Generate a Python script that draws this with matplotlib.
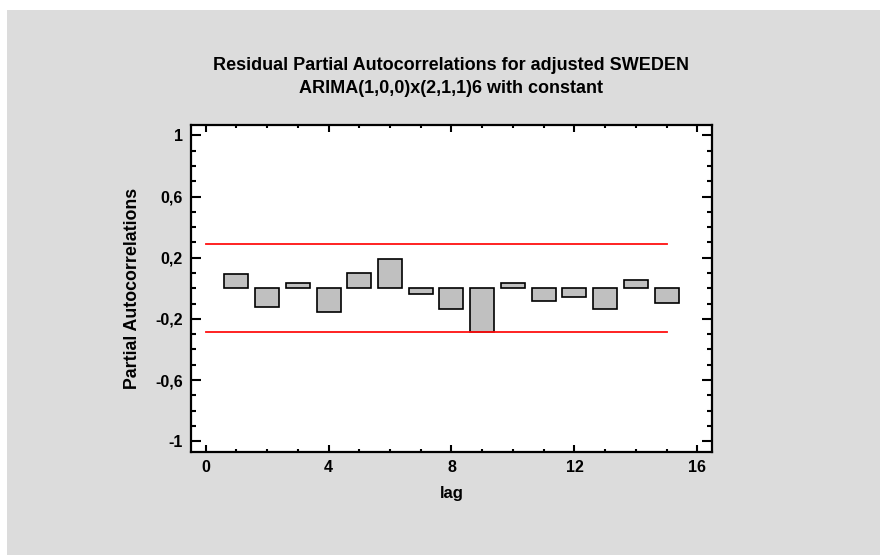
import matplotlib
matplotlib.use('Agg')
import matplotlib.pyplot as plt
from matplotlib.patches import Rectangle
from matplotlib.ticker import MultipleLocator, FuncFormatter

# Residual partial autocorrelations by lag
lags = [1, 2, 3, 4, 5, 6, 7, 8, 9, 10, 11, 12, 13, 14, 15]
pacf = [0.092, -0.121, 0.037, -0.158, 0.099, 0.191, -0.039, -0.138,
        -0.286, 0.037, -0.086, -0.057, -0.138, 0.057, -0.095]

# 95% probability limits
limit_upper = 0.291
limit_lower = -0.288
limit_span = [0, 15]

ytick_values = [-1, -0.6, -0.2, 0.2, 0.6, 1]

title = ('Residual Partial Autocorrelations for adjusted SWEDEN\n'
         'ARIMA(1,0,0)x(2,1,1)6 with constant')

plt.rcParams['font.family'] = ['Liberation Sans', 'DejaVu Sans']
plt.rcParams['font.weight'] = 'bold'

fig = plt.figure(figsize=(8.8, 5.55), dpi=100, facecolor='white')
# gray panel behind everything (white strip on top/left as in the source)
fig.patches.append(Rectangle((7 / 880, 0), 1, 1 - 10 / 555,
                             transform=fig.transFigure,
                             facecolor='#dcdcdc', edgecolor='none',
                             zorder=-10))

ax = fig.add_axes([0.2175, 0.1856, 0.5911, 0.5899])
ax.set_facecolor('white')

ax.bar(lags, pacf, width=0.78, color='#c0c0c0', edgecolor='black',
       linewidth=1.2, zorder=2)
ax.plot(limit_span, [limit_upper, limit_upper], color='#ff1010', lw=1.3,
        zorder=3)
ax.plot(limit_span, [limit_lower, limit_lower], color='#ff1010', lw=1.3,
        zorder=3)

ax.set_xlim(-0.46, 16.46)
ax.set_ylim(-1.07, 1.07)

ax.xaxis.set_major_locator(MultipleLocator(4))
ax.xaxis.set_minor_locator(MultipleLocator(1))
ax.yaxis.set_minor_locator(MultipleLocator(0.1))
ax.set_yticks(ytick_values)


def comma_fmt(v, pos):
    s = f'{v:.1f}'.rstrip('0').rstrip('.')
    if s == '-0':
        s = '0'
    return s.replace('.', ',')


ax.yaxis.set_major_formatter(FuncFormatter(comma_fmt))
ax.xaxis.set_major_formatter(FuncFormatter(lambda v, p: f'{v:.0f}'))

ax.tick_params(axis='both', which='both', direction='in',
               top=True, right=True, width=1.5, labelsize=11.5, pad=6)
ax.tick_params(axis='x', which='major', length=5)
ax.tick_params(axis='x', which='minor', length=2.5)
ax.tick_params(axis='y', which='major', length=7.5)
ax.tick_params(axis='y', which='minor', length=3.5)
for lbl in ax.get_xticklabels() + ax.get_yticklabels():
    lbl.set_fontweight('bold')

for sp in ax.spines.values():
    sp.set_linewidth(1.6)

ax.set_title(title, fontsize=13, fontweight='bold', linespacing=1.45, pad=23)
ax.set_xlabel('lag', fontsize=12, fontweight='bold', labelpad=8)
ax.set_ylabel('Partial Autocorrelations', fontsize=12.75, fontweight='bold',
              labelpad=10)

fig.savefig('out.png', dpi=100, facecolor=fig.get_facecolor())
